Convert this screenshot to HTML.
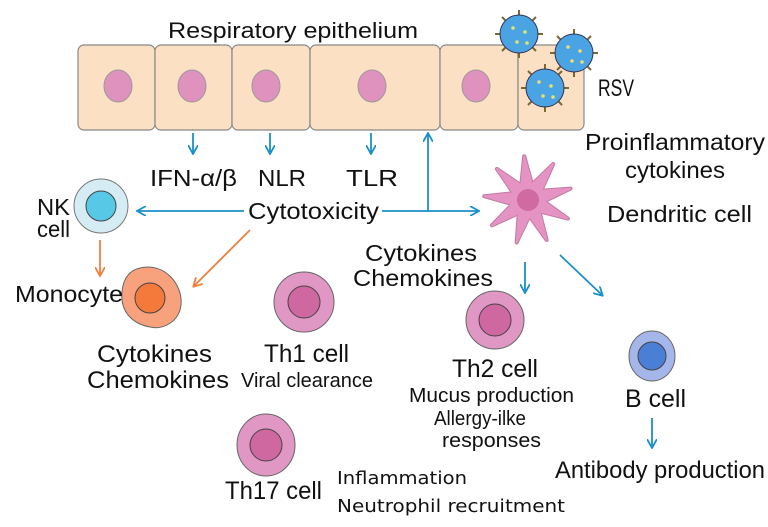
<!DOCTYPE html>
<html><head><meta charset="utf-8"><style>
html,body{margin:0;padding:0;background:#fff;}
svg{display:block;}
text{font-family:"Liberation Sans",Arial,sans-serif;fill:#111;}
</style></head><body>
<svg width="768" height="527" viewBox="0 0 768 527" xmlns="http://www.w3.org/2000/svg">
<defs>
<marker id="ab" markerWidth="10" markerHeight="10" refX="8" refY="5" orient="auto" markerUnits="userSpaceOnUse"><path d="M0,0 L9,5 L0,10" fill="none" stroke="#1a8fc9" stroke-width="1.8"/></marker>
<marker id="ao" markerWidth="10" markerHeight="10" refX="8" refY="5" orient="auto" markerUnits="userSpaceOnUse"><path d="M0,0 L9,5 L0,10" fill="none" stroke="#f07f3c" stroke-width="1.8"/></marker>
</defs>
<text x="168" y="38" font-size="22" textLength="250" lengthAdjust="spacingAndGlyphs">Respiratory epithelium</text>
<g fill="#fbe0c3" stroke="#888" stroke-width="1.2">
<rect x="78" y="45" width="77" height="85" rx="6"/>
<rect x="155" y="45" width="77" height="85" rx="6"/>
<rect x="232" y="45" width="78" height="85" rx="6"/>
<rect x="310" y="45" width="130" height="85" rx="6"/>
<rect x="440" y="45" width="78" height="85" rx="6"/>
<rect x="518" y="45" width="66" height="85" rx="6"/>
</g>
<g fill="#df92bd" stroke="#999" stroke-width="1">
<ellipse cx="118" cy="86" rx="14" ry="16"/>
<ellipse cx="192" cy="86" rx="14" ry="16"/>
<ellipse cx="266" cy="86" rx="14" ry="16"/>
<ellipse cx="372" cy="86" rx="14" ry="16"/>
<ellipse cx="476" cy="86" rx="14" ry="16"/>
</g>
<g stroke="#335" stroke-width="1">
<g transform="translate(519,34)"><g stroke="#7a6a30" stroke-width="2"><line x1="0" y1="-24" x2="0" y2="-19"/><line x1="17" y1="-17" x2="13" y2="-13"/><line x1="24" y1="0" x2="19" y2="0"/><line x1="17" y1="17" x2="13" y2="13"/><line x1="0" y1="24" x2="0" y2="19"/><line x1="-17" y1="17" x2="-13" y2="13"/><line x1="-24" y1="0" x2="-19" y2="0"/><line x1="-17" y1="-17" x2="-13" y2="-13"/></g><circle r="19" fill="#4aa3e3"/><g fill="#e8e070" stroke="none"><circle cx="-6" cy="-6" r="1.8"/><circle cx="6" cy="-2" r="1.8"/><circle cx="-2" cy="8" r="1.8"/><circle cx="8" cy="9" r="1.8"/></g></g>
<g transform="translate(574,53)"><g stroke="#7a6a30" stroke-width="2"><line x1="0" y1="-24" x2="0" y2="-19"/><line x1="17" y1="-17" x2="13" y2="-13"/><line x1="24" y1="0" x2="19" y2="0"/><line x1="17" y1="17" x2="13" y2="13"/><line x1="0" y1="24" x2="0" y2="19"/><line x1="-17" y1="17" x2="-13" y2="13"/><line x1="-24" y1="0" x2="-19" y2="0"/><line x1="-17" y1="-17" x2="-13" y2="-13"/></g><circle r="19" fill="#4aa3e3"/><g fill="#e8e070" stroke="none"><circle cx="-6" cy="-6" r="1.8"/><circle cx="6" cy="-2" r="1.8"/><circle cx="-2" cy="8" r="1.8"/><circle cx="8" cy="9" r="1.8"/></g></g>
<g transform="translate(545,88)"><g stroke="#7a6a30" stroke-width="2"><line x1="0" y1="-24" x2="0" y2="-19"/><line x1="17" y1="-17" x2="13" y2="-13"/><line x1="24" y1="0" x2="19" y2="0"/><line x1="17" y1="17" x2="13" y2="13"/><line x1="0" y1="24" x2="0" y2="19"/><line x1="-17" y1="17" x2="-13" y2="13"/><line x1="-24" y1="0" x2="-19" y2="0"/><line x1="-17" y1="-17" x2="-13" y2="-13"/></g><circle r="19" fill="#4aa3e3"/><g fill="#e8e070" stroke="none"><circle cx="-6" cy="-6" r="1.8"/><circle cx="6" cy="-2" r="1.8"/><circle cx="-2" cy="8" r="1.8"/><circle cx="8" cy="9" r="1.8"/></g></g>
</g>
<text x="598" y="96" font-size="24" textLength="36" lengthAdjust="spacingAndGlyphs">RSV</text>
<g stroke="#1a8fc9" stroke-width="1.8" fill="none">
<line x1="193" y1="133" x2="193" y2="153" marker-end="url(#ab)"/>
<line x1="270" y1="133" x2="270" y2="153" marker-end="url(#ab)"/>
<line x1="371" y1="133" x2="371" y2="153" marker-end="url(#ab)"/>
<line x1="428" y1="211" x2="428" y2="134" marker-end="url(#ab)"/>
<line x1="244" y1="211" x2="138" y2="211" marker-end="url(#ab)"/>
<line x1="382" y1="211" x2="478" y2="211" marker-end="url(#ab)"/>
<line x1="525" y1="262" x2="525" y2="292" marker-end="url(#ab)"/>
<line x1="560" y1="255" x2="602" y2="295" marker-end="url(#ab)"/>
<line x1="652" y1="418" x2="652" y2="447" marker-end="url(#ab)"/>
</g>
<g stroke="#f07f3c" stroke-width="1.8" fill="none">
<line x1="100" y1="240" x2="100" y2="275" marker-end="url(#ao)"/>
<line x1="250" y1="230" x2="194" y2="286" marker-end="url(#ao)"/>
</g>
<text x="150" y="186" font-size="23" textLength="87" lengthAdjust="spacingAndGlyphs">IFN-α/β</text>
<text x="258" y="186" font-size="23" textLength="48" lengthAdjust="spacingAndGlyphs">NLR</text>
<text x="346" y="186" font-size="23" textLength="52" lengthAdjust="spacingAndGlyphs">TLR</text>
<text x="248" y="219" font-size="23" textLength="131" lengthAdjust="spacingAndGlyphs">Cytotoxicity</text>
<circle cx="101" cy="206" r="27" fill="#d6ecf4" stroke="#777" stroke-width="1"/>
<circle cx="101" cy="206" r="15" fill="#57c8e6" stroke="#444" stroke-width="1"/>
<text x="37" y="215" font-size="23" textLength="33" lengthAdjust="spacingAndGlyphs">NK</text>
<text x="37" y="237" font-size="23" textLength="33" lengthAdjust="spacingAndGlyphs">cell</text>
<polygon points="524.2,156.2 532.1,184.5 553.2,164 541.1,190.8 570.5,188.6 543.9,201.4 567.9,218.6 539.3,211.3 546.6,239.9 529.4,215.9 516.6,242.5 518.8,213.1 492,225.3 512.5,204.1 484.2,196.2 513.5,193.2 496.9,168.9 521.2,185.5" fill="#e493c3" stroke="#c27aa3" stroke-width="4" stroke-linejoin="round"/>
<polygon points="524.2,156.2 532.1,184.5 553.2,164 541.1,190.8 570.5,188.6 543.9,201.4 567.9,218.6 539.3,211.3 546.6,239.9 529.4,215.9 516.6,242.5 518.8,213.1 492,225.3 512.5,204.1 484.2,196.2 513.5,193.2 496.9,168.9 521.2,185.5" fill="#e493c3" stroke="#e493c3" stroke-width="2" stroke-linejoin="round"/>
<circle cx="528" cy="200" r="11" fill="#d26aa2"/>
<text x="585" y="150" font-size="23" textLength="180" lengthAdjust="spacingAndGlyphs">Proinflammatory</text>
<text x="625" y="178" font-size="23" textLength="100" lengthAdjust="spacingAndGlyphs">cytokines</text>
<text x="607" y="222" font-size="23" textLength="145" lengthAdjust="spacingAndGlyphs">Dendritic cell</text>
<text x="365" y="261" font-size="23" textLength="112" lengthAdjust="spacingAndGlyphs">Cytokines</text>
<text x="353" y="286" font-size="23" textLength="140" lengthAdjust="spacingAndGlyphs">Chemokines</text>
<path d="M140,268 C165,262 183,285 181,305 C179,322 163,330 150,327 C133,324 120,312 122,292 C123,278 130,270 140,268Z" fill="#f7a27d" stroke="#666" stroke-width="1"/>
<circle cx="150" cy="298" r="15" fill="#f47a3c" stroke="#444" stroke-width="1"/>
<text x="15" y="302" font-size="23" textLength="108" lengthAdjust="spacingAndGlyphs">Monocyte</text>
<text x="97" y="362" font-size="24" textLength="115" lengthAdjust="spacingAndGlyphs">Cytokines</text>
<text x="87" y="388" font-size="24" textLength="142" lengthAdjust="spacingAndGlyphs">Chemokines</text>
<ellipse cx="304" cy="302" rx="30" ry="30" fill="#e197c4" stroke="#666" stroke-width="1"/>
<circle cx="304" cy="302" r="16" fill="#cf67a0" stroke="#444" stroke-width="1"/>
<text x="264" y="362" font-size="25" textLength="85" lengthAdjust="spacingAndGlyphs">Th1 cell</text>
<text x="241" y="387" font-size="20" textLength="132" lengthAdjust="spacingAndGlyphs">Viral clearance</text>
<circle cx="495" cy="320" r="29" fill="#e197c4" stroke="#666" stroke-width="1"/>
<circle cx="495" cy="320" r="16" fill="#cf67a0" stroke="#444" stroke-width="1"/>
<text x="452" y="377" font-size="25" textLength="86" lengthAdjust="spacingAndGlyphs">Th2 cell</text>
<text x="409" y="402" font-size="20" textLength="165" lengthAdjust="spacingAndGlyphs">Mucus production</text>
<text x="434" y="425" font-size="20" textLength="92" lengthAdjust="spacingAndGlyphs">Allergy-ilke</text>
<text x="442" y="447" font-size="20" textLength="99" lengthAdjust="spacingAndGlyphs">responses</text>
<ellipse cx="652" cy="356" rx="23" ry="25" fill="#a4b6ea" stroke="#666" stroke-width="1"/>
<circle cx="652" cy="356" r="14" fill="#4a7fd6" stroke="#444" stroke-width="1"/>
<text x="625" y="407" font-size="25" textLength="61" lengthAdjust="spacingAndGlyphs">B cell</text>
<text x="555" y="478" font-size="24" textLength="210" lengthAdjust="spacingAndGlyphs">Antibody production</text>
<ellipse cx="266" cy="445" rx="29" ry="31" fill="#e197c4" stroke="#666" stroke-width="1"/>
<circle cx="266" cy="445" r="16" fill="#cf67a0" stroke="#444" stroke-width="1"/>
<text x="225" y="499" font-size="25" textLength="97" lengthAdjust="spacingAndGlyphs">Th17 cell</text>
<text x="337" y="484" font-size="18" textLength="130" lengthAdjust="spacingAndGlyphs" style="font-family:'DejaVu Sans',sans-serif">Inflammation</text>
<text x="337" y="512" font-size="18" textLength="228" lengthAdjust="spacingAndGlyphs" style="font-family:'DejaVu Sans',sans-serif">Neutrophil recruitment</text>
</svg>
</body></html>
